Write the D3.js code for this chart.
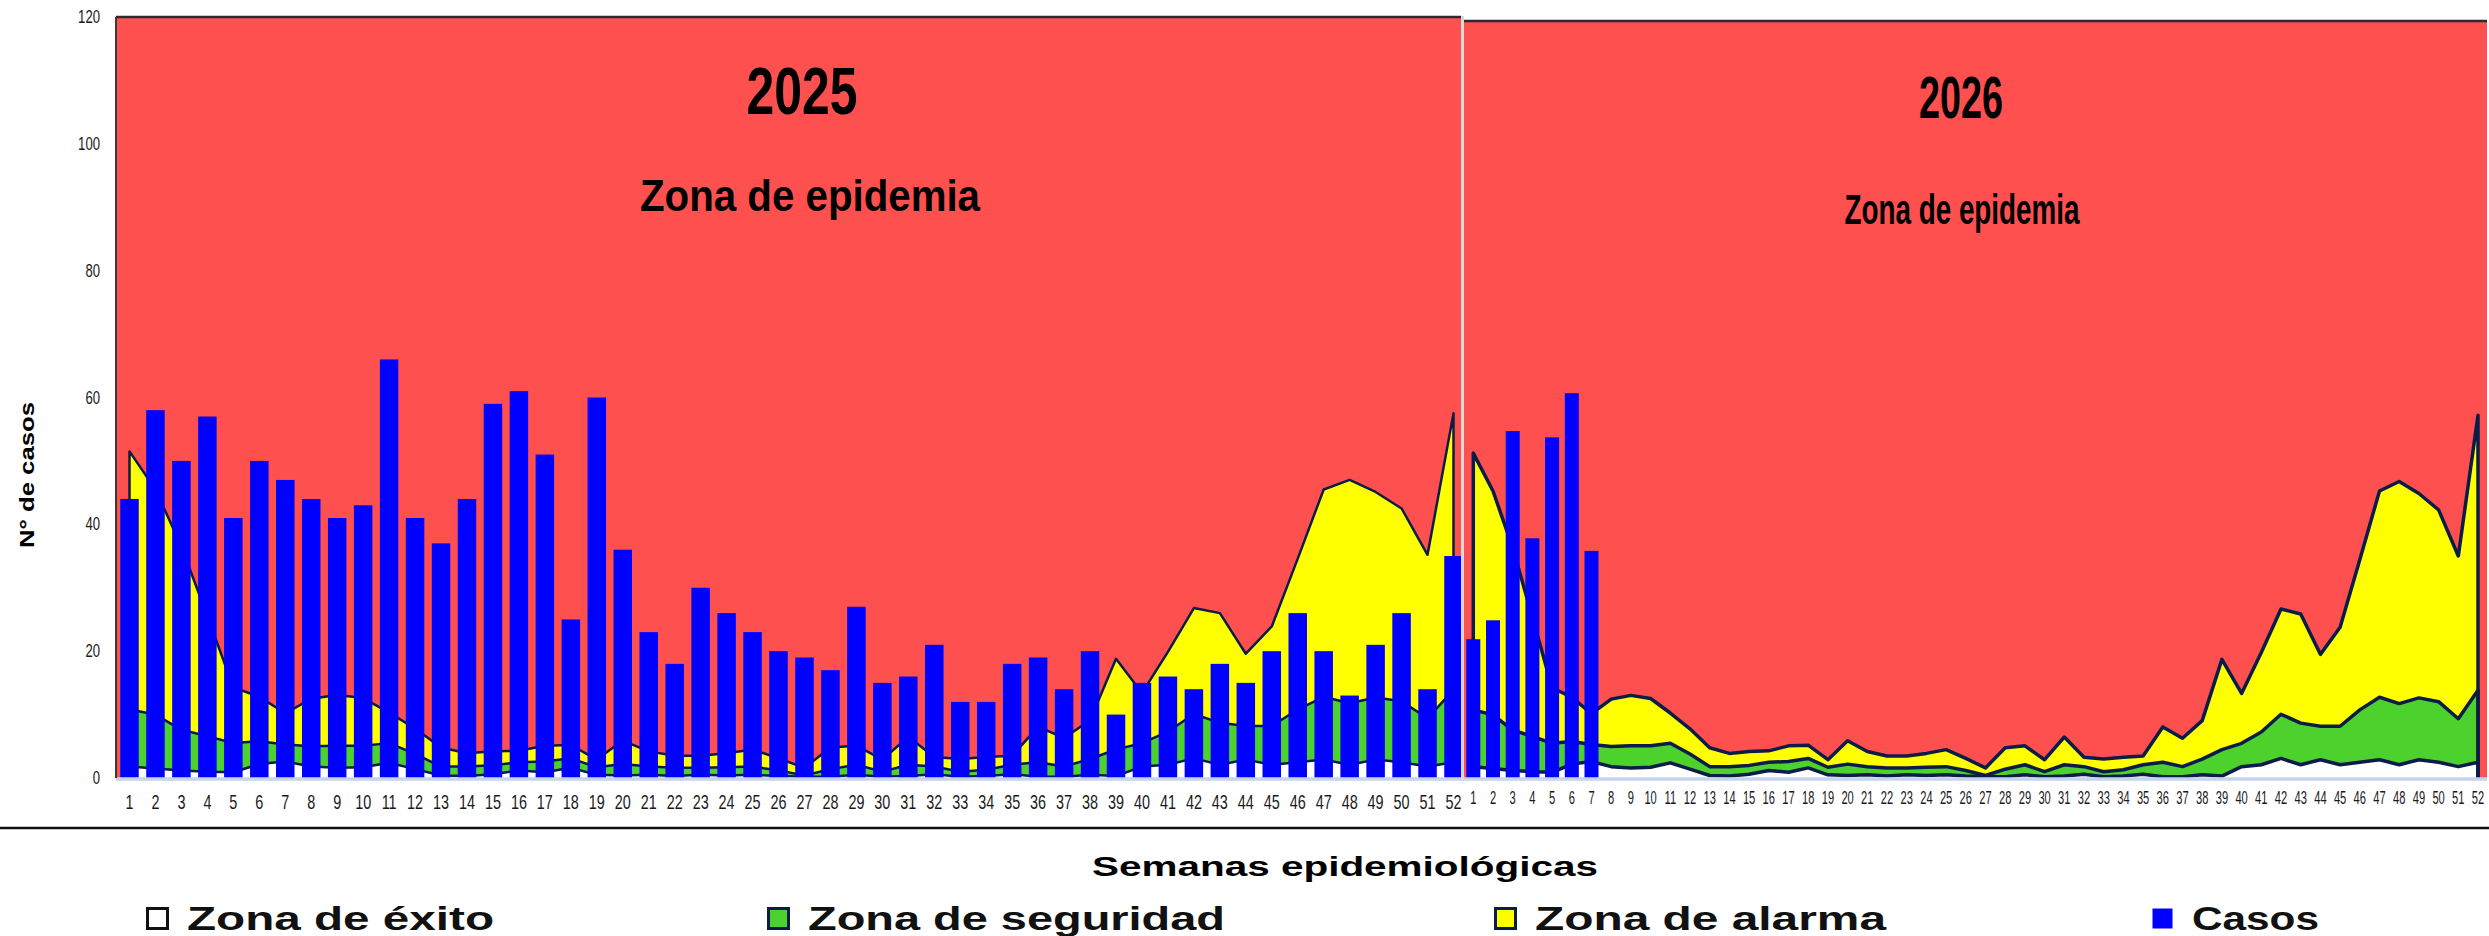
<!DOCTYPE html>
<html>
<head>
<meta charset="utf-8">
<script src="https://cdn.jsdelivr.net/npm/d3@7"></script>
<style>
  body { margin: 0; background: #fff; }
  text { font-family: "Liberation Sans", Arial, sans-serif; }
</style>
</head>
<body>
<svg class="canal" width="2489" height="936"></svg>
<script>
// Canal endemico 2025 - 2026, semanas epidemiologicas

var weeks = d3.range(1, 53);

// upper limit of each zone (same channel for both years)
var exito = [1.8, 1.5, 1.2, 1.0, 0.9, 2.2, 2.6, 1.8, 1.6, 1.7, 2.4, 1.4, 0.4, 0.3, 0.6, 1.2, 0.9, 1.6, 0.5, 0.4,
             0.5, 0.3, 0.5, 0.4, 0.5, 0.3, 0.2, 0.2, 0.5, 0.2, 0.3, 0.6, 0.2, 0.3, 0.6, 0.2, 0.2, 0.5, 0.3, 1.8,
             2.1, 3.1, 2.1, 2.9, 2.1, 2.5, 2.9, 2.1, 2.9, 2.5, 1.8, 2.5];
var seguridad = [10.8, 10.0, 7.6, 6.6, 5.5, 5.8, 5.3, 5.0, 5.1, 5.1, 5.5, 3.8, 1.8, 1.8, 2.0, 2.5, 2.6, 3.1, 1.7, 2.2,
                 1.8, 1.6, 1.6, 1.7, 1.8, 1.2, 0.4, 1.4, 2.1, 1.0, 2.1, 1.8, 1.0, 1.3, 2.1, 2.5, 1.8, 3.0, 4.5, 5.5,
                 7.3, 10.1, 8.7, 8.2, 8.2, 10.8, 12.8, 11.8, 12.7, 12.1, 9.4, 13.9];
var alarma = [51.5, 45.5, 36.5, 25.5, 14.3, 12.8, 10.2, 12.5, 13.1, 12.6, 10.3, 7.8, 4.8, 3.9, 4.2, 4.3, 5.1, 5.2, 2.9, 5.9,
              4.2, 3.5, 3.5, 3.9, 4.5, 3.1, 1.6, 4.8, 5.1, 2.9, 6.5, 3.3, 3.0, 3.3, 3.5, 8.1, 6.3, 9.1, 18.8, 13.4,
              19.9, 26.8, 26.0, 19.6, 23.9, 34.6, 45.5, 47.0, 45.1, 42.5, 35.2, 57.5];

// casos por semana
var casos2025 = [44, 58, 50, 57, 41, 50, 47, 44, 41, 43, 66, 41, 37, 44, 59, 61, 51, 25, 60, 36,
                 23, 18, 30, 26, 23, 20, 19, 17, 27, 15, 16, 21, 12, 12, 18, 19, 14, 20, 10, 15,
                 16, 14, 18, 15, 20, 26, 20, 13, 21, 26, 14, 35];
var casos2026 = [22, 25, 55, 38, 54, 61, 36];

var yTicks = [0, 20, 40, 60, 80, 100, 120];
var legendLabels = ["Zona de éxito", "Zona de seguridad", "Zona de alarma", "Casos"];

var svg = d3.select(".canal"),
    width = +svg.attr("width"),
    height = +svg.attr("height");

var red = "#ff5050", yellow = "#ffff00", green = "#4dd12c", blue = "#0000ff", edge = "#0c1c48";

var panels = [
  { name: "2025", casos: casos2025, left: 116, right: 1461, top: 17,
    x: d3.scaleLinear().domain([1, 52]).range([129.5, 1453.5]),
    barW: 18.5, lineW: 2.5, tickSize: 20, tickScale: 0.72, tickY: 809,
    title: { x: 802, y: 114, size: 66, len: 111 }, zona: { x: 810, y: 211, size: 44, len: 340 } },
  { name: "2026", casos: casos2026, left: 1464, right: 2487, top: 21,
    x: d3.scaleLinear().domain([1, 52]).range([1473.3, 2478]),
    barW: 14, lineW: 3.5, tickSize: 18, tickScale: 0.62, tickY: 804,
    title: { x: 1961, y: 118, size: 60, len: 84 }, zona: { x: 1962, y: 224, size: 43, len: 235 } }
];

function drawPanel(p) {
  var y = d3.scaleLinear().domain([0, 120]).range([778, p.top]);
  var g = svg.append("g").attr("class", "panel-" + p.name);

  // zona de epidemia = everything above alarma
  g.append("rect")
    .attr("x", p.left).attr("y", y(120))
    .attr("width", p.right - p.left).attr("height", y(0) - y(120))
    .attr("fill", red);
  g.append("line")
    .attr("x1", p.left).attr("x2", p.right)
    .attr("y1", y(120)).attr("y2", y(120))
    .attr("stroke", "#2a2a2a").attr("stroke-width", 2.5);

  var zones = [
    { vals: alarma, fill: yellow },
    { vals: seguridad, fill: green },
    { vals: exito, fill: "#ffffff" }
  ];

  var area = d3.area()
    .x(function (d, i) { return p.x(weeks[i]); })
    .y0(y(0))
    .y1(function (d) { return y(d); });

  // outline = top of the zone plus the two closing edges
  var outline = d3.line()
    .x(function (d) { return p.x(d[0]); })
    .y(function (d) { return y(d[1]); });

  g.selectAll(".zone")
    .data(zones)
    .enter().append("path")
    .attr("class", "zone")
    .attr("d", function (d) { return area(d.vals); })
    .attr("fill", function (d) { return d.fill; });

  g.selectAll(".zone-edge")
    .data(zones)
    .enter().append("path")
    .attr("class", "zone-edge")
    .attr("d", function (d) {
      var pts = [[1, 0]].concat(d.vals.map(function (v, i) { return [weeks[i], v]; }), [[52, 0]]);
      return outline(pts);
    })
    .attr("fill", "none")
    .attr("stroke", edge)
    .attr("stroke-width", p.lineW)
    .attr("stroke-linejoin", "round");

  // casos
  g.selectAll(".bar")
    .data(p.casos)
    .enter().append("rect")
    .attr("class", "bar")
    .attr("x", function (d, i) { return p.x(i + 1) - p.barW / 2; })
    .attr("y", function (d) { return y(d); })
    .attr("width", p.barW)
    .attr("height", function (d) { return y(0) - y(d); })
    .attr("fill", blue);

  // zero line
  g.append("line")
    .attr("x1", p.left).attr("x2", p.right)
    .attr("y1", y(0) + 1).attr("y2", y(0) + 1)
    .attr("stroke", "#c6d3ee").attr("stroke-width", 3.5);

  // week labels, squeezed like the original
  g.selectAll(".wk")
    .data(weeks)
    .enter().append("text")
    .attr("class", "wk")
    .attr("transform", function (d) { return "translate(" + p.x(d) + "," + p.tickY + ") scale(" + p.tickScale + ",1)"; })
    .attr("text-anchor", "middle")
    .attr("font-size", p.tickSize)
    .attr("fill", "#1a1a1a")
    .text(function (d) { return d; });

  // titles inside the red zone
  g.append("text")
    .attr("x", p.title.x).attr("y", p.title.y)
    .attr("text-anchor", "middle")
    .attr("font-family", "'Open Sans', Lato, sans-serif")
    .attr("font-weight", 700)
    .attr("font-size", p.title.size)
    .attr("textLength", p.title.len)
    .attr("lengthAdjust", "spacingAndGlyphs")
    .text(p.name);
  g.append("text")
    .attr("x", p.zona.x).attr("y", p.zona.y)
    .attr("text-anchor", "middle")
    .attr("font-family", "'Open Sans', Lato, sans-serif")
    .attr("font-weight", 700)
    .attr("font-size", p.zona.size)
    .attr("textLength", p.zona.len)
    .attr("lengthAdjust", "spacingAndGlyphs")
    .text("Zona de epidemia");

  return y;
}

var yLeft = drawPanel(panels[0]);
drawPanel(panels[1]);

// left axis + labels
svg.append("line")
  .attr("x1", 116).attr("x2", 116)
  .attr("y1", yLeft(120)).attr("y2", yLeft(0))
  .attr("stroke", "#3a3a3a").attr("stroke-width", 2);

svg.selectAll(".ytick")
  .data(yTicks)
  .enter().append("text")
  .attr("class", "ytick")
  .attr("transform", function (d) { return "translate(100," + (yLeft(d) + 6) + ") scale(0.73,1)"; })
  .attr("text-anchor", "end")
  .attr("font-size", 18)
  .attr("fill", "#1a1a1a")
  .text(function (d) { return d; });

// separator between the two years
svg.append("line")
  .attr("x1", 1462.5).attr("x2", 1462.5)
  .attr("y1", 16).attr("y2", 781)
  .attr("stroke", "#d9d9d9").attr("stroke-width", 3);

svg.append("text")
  .attr("transform", "translate(34,475) rotate(-90)")
  .attr("text-anchor", "middle")
  .attr("font-family", "'DejaVu Sans', Verdana, sans-serif")
  .attr("font-weight", 700)
  .attr("font-size", 20)
  .attr("textLength", 146)
  .attr("lengthAdjust", "spacingAndGlyphs")
  .text("N° de casos");

// bottom part: rule, axis title, legend
svg.append("line")
  .attr("x1", 0).attr("x2", width)
  .attr("y1", 828).attr("y2", 828)
  .attr("stroke", "#111").attr("stroke-width", 2.5);

svg.append("text")
  .attr("x", 1345).attr("y", 876)
  .attr("text-anchor", "middle")
  .attr("font-family", "'DejaVu Sans', Verdana, sans-serif")
  .attr("font-weight", 700)
  .attr("font-size", 27)
  .attr("textLength", 506)
  .attr("lengthAdjust", "spacingAndGlyphs")
  .text("Semanas epidemiológicas");

var legendX = [146, 767, 1494, 2151];
var legendLen = [307, 417, 351, 127];
var legendFill = ["#ffffff", green, yellow, blue];
var legendStroke = ["#111", edge, edge, "none"];

var leg = svg.selectAll(".leg")
  .data(legendLabels)
  .enter().append("g")
  .attr("class", "leg")
  .attr("transform", function (d, i) { return "translate(" + legendX[i] + ",907)"; });

leg.append("rect")
  .attr("x", 1.5).attr("y", 1.5)
  .attr("width", 20).attr("height", 20)
  .attr("fill", function (d, i) { return legendFill[i]; })
  .attr("stroke", function (d, i) { return legendStroke[i]; })
  .attr("stroke-width", 3);

leg.append("text")
  .attr("x", 41).attr("y", 23)
  .attr("font-family", "'DejaVu Sans', Verdana, sans-serif")
  .attr("font-weight", 700)
  .attr("font-size", 33)
  .attr("textLength", function (d, i) { return legendLen[i]; })
  .attr("lengthAdjust", "spacingAndGlyphs")
  .attr("fill", "#111")
  .text(function (d) { return d; });
</script>
</body>
</html>
